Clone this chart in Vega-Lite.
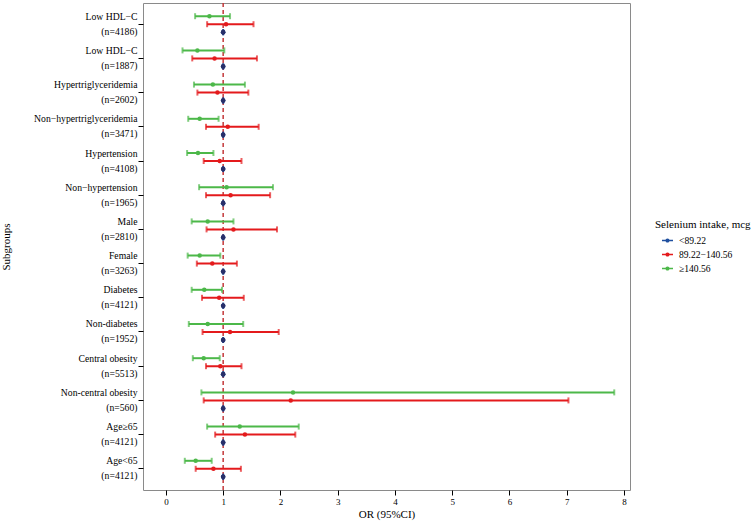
{
  "$schema": "https://vega.github.io/schema/vega-lite/v6.json",
  "width": 487,
  "height": 487,
  "autosize": {"type": "none"},
  "padding": {"left": 143, "top": 3, "right": 123, "bottom": 33},
  "background": "white",
  "config": {
    "font": "Liberation Serif",
    "view": {"stroke": "#8a8a8a", "strokeWidth": 1},
    "axis": {"grid": false, "domain": false, "tickColor": "black", "tickSize": 5, "labelColor": "black", "titleColor": "black", "titleFontWeight": "normal", "labelFont": "Liberation Serif", "titleFont": "Liberation Serif"},
    "legend": {"labelFont": "Liberation Serif", "titleFont": "Liberation Serif"}
  },
  "layer": [
    {
      "data": {"values": [{"ref": 1}]},
      "mark": {"type": "rule", "color": "#c4383a", "strokeWidth": 1.5, "strokeDash": [4, 3]},
      "encoding": {"x": {"field": "ref", "type": "quantitative"}}
    },
    {
      "data": {
        "values": [
          {"subgroup": "Low HDL−C\n(n=4186)", "group": "≥140.56", "or": 0.76, "lo": 0.51, "hi": 1.12},
          {"subgroup": "Low HDL−C\n(n=4186)", "group": "89.22−140.56", "or": 1.05, "lo": 0.72, "hi": 1.53},
          {"subgroup": "Low HDL−C\n(n=4186)", "group": "<89.22", "or": 1, "lo": 1, "hi": 1},
          {"subgroup": "Low HDL−C\n(n=1887)", "group": "≥140.56", "or": 0.55, "lo": 0.29, "hi": 1.02},
          {"subgroup": "Low HDL−C\n(n=1887)", "group": "89.22−140.56", "or": 0.85, "lo": 0.46, "hi": 1.59},
          {"subgroup": "Low HDL−C\n(n=1887)", "group": "<89.22", "or": 1, "lo": 1, "hi": 1},
          {"subgroup": "Hypertriglyceridemia\n(n=2602)", "group": "≥140.56", "or": 0.82, "lo": 0.49, "hi": 1.38},
          {"subgroup": "Hypertriglyceridemia\n(n=2602)", "group": "89.22−140.56", "or": 0.9, "lo": 0.55, "hi": 1.44},
          {"subgroup": "Hypertriglyceridemia\n(n=2602)", "group": "<89.22", "or": 1, "lo": 1, "hi": 1},
          {"subgroup": "Non−hypertriglyceridemia\n(n=3471)", "group": "≥140.56", "or": 0.59, "lo": 0.39, "hi": 0.92},
          {"subgroup": "Non−hypertriglyceridemia\n(n=3471)", "group": "89.22−140.56", "or": 1.08, "lo": 0.7, "hi": 1.62},
          {"subgroup": "Non−hypertriglyceridemia\n(n=3471)", "group": "<89.22", "or": 1, "lo": 1, "hi": 1},
          {"subgroup": "Hypertension\n(n=4108)", "group": "≥140.56", "or": 0.56, "lo": 0.37, "hi": 0.83},
          {"subgroup": "Hypertension\n(n=4108)", "group": "89.22−140.56", "or": 0.94, "lo": 0.66, "hi": 1.32},
          {"subgroup": "Hypertension\n(n=4108)", "group": "<89.22", "or": 1, "lo": 1, "hi": 1},
          {"subgroup": "Non−hypertension\n(n=1965)", "group": "≥140.56", "or": 1.06, "lo": 0.58, "hi": 1.87},
          {"subgroup": "Non−hypertension\n(n=1965)", "group": "89.22−140.56", "or": 1.13, "lo": 0.7, "hi": 1.82},
          {"subgroup": "Non−hypertension\n(n=1965)", "group": "<89.22", "or": 1, "lo": 1, "hi": 1},
          {"subgroup": "Male\n(n=2810)", "group": "≥140.56", "or": 0.73, "lo": 0.45, "hi": 1.18},
          {"subgroup": "Male\n(n=2810)", "group": "89.22−140.56", "or": 1.18, "lo": 0.71, "hi": 1.94},
          {"subgroup": "Male\n(n=2810)", "group": "<89.22", "or": 1, "lo": 1, "hi": 1},
          {"subgroup": "Female\n(n=3263)", "group": "≥140.56", "or": 0.59, "lo": 0.38, "hi": 0.95},
          {"subgroup": "Female\n(n=3263)", "group": "89.22−140.56", "or": 0.81, "lo": 0.54, "hi": 1.24},
          {"subgroup": "Female\n(n=3263)", "group": "<89.22", "or": 1, "lo": 1, "hi": 1},
          {"subgroup": "Diabetes\n(n=4121)", "group": "≥140.56", "or": 0.67, "lo": 0.45, "hi": 0.98},
          {"subgroup": "Diabetes\n(n=4121)", "group": "89.22−140.56", "or": 0.93, "lo": 0.63, "hi": 1.36},
          {"subgroup": "Diabetes\n(n=4121)", "group": "<89.22", "or": 1, "lo": 1, "hi": 1},
          {"subgroup": "Non-diabetes\n(n=1952)", "group": "≥140.56", "or": 0.73, "lo": 0.4, "hi": 1.35},
          {"subgroup": "Non-diabetes\n(n=1952)", "group": "89.22−140.56", "or": 1.12, "lo": 0.64, "hi": 1.97},
          {"subgroup": "Non-diabetes\n(n=1952)", "group": "<89.22", "or": 1, "lo": 1, "hi": 1},
          {"subgroup": "Central obesity\n(n=5513)", "group": "≥140.56", "or": 0.66, "lo": 0.47, "hi": 0.94},
          {"subgroup": "Central obesity\n(n=5513)", "group": "89.22−140.56", "or": 0.95, "lo": 0.7, "hi": 1.32},
          {"subgroup": "Central obesity\n(n=5513)", "group": "<89.22", "or": 1, "lo": 1, "hi": 1},
          {"subgroup": "Non-central obesity\n(n=560)", "group": "≥140.56", "or": 2.22, "lo": 0.62, "hi": 7.83},
          {"subgroup": "Non-central obesity\n(n=560)", "group": "89.22−140.56", "or": 2.18, "lo": 0.66, "hi": 7.03},
          {"subgroup": "Non-central obesity\n(n=560)", "group": "<89.22", "or": 1, "lo": 1, "hi": 1},
          {"subgroup": "Age≥65\n(n=4121)", "group": "≥140.56", "or": 1.29, "lo": 0.72, "hi": 2.32},
          {"subgroup": "Age≥65\n(n=4121)", "group": "89.22−140.56", "or": 1.38, "lo": 0.86, "hi": 2.26},
          {"subgroup": "Age≥65\n(n=4121)", "group": "<89.22", "or": 1, "lo": 1, "hi": 1},
          {"subgroup": "Age<65\n(n=4121)", "group": "≥140.56", "or": 0.52, "lo": 0.33, "hi": 0.8},
          {"subgroup": "Age<65\n(n=4121)", "group": "89.22−140.56", "or": 0.83, "lo": 0.52, "hi": 1.31},
          {"subgroup": "Age<65\n(n=4121)", "group": "<89.22", "or": 1, "lo": 1, "hi": 1}
        ]
      },
      "encoding": {
        "y": {
          "field": "subgroup", "type": "nominal", "sort": null,
          "scale": {"paddingInner": 0, "paddingOuter": 0.12},
          "axis": {"title": "Subgroups", "titleFontSize": 11, "titleFontWeight": "normal", "titlePadding": 22, "labelFontSize": 9.7, "labelExpr": "split(datum.label, '\\n')", "labelLineHeight": 15, "labelPadding": 1, "labelOffset": -7.5, "labelLimit": 200}
        },
        "yOffset": {"field": "group", "type": "nominal", "scale": {"domain": ["≥140.56", "89.22−140.56", "<89.22"], "paddingInner": 0, "paddingOuter": 0.6375}},
        "color": {
          "field": "group", "type": "nominal",
          "scale": {"domain": ["<89.22", "89.22−140.56", "≥140.56"], "range": ["#1f4f9f", "#e41a1c", "#4cb849"]},
          "legend": {"orient": "none", "legendX": 512, "legendY": 216, "title": "Selenium intake, mcg", "titleFontSize": 11, "titleFontWeight": "normal", "titleColor": "black", "titlePadding": 5, "labelFontSize": 9.6, "labelColor": "black", "symbolType": "M-1,-0.13H1V0.13H-1Z M-0.38,0A0.38,0.38 0 1,1 0.38,0A0.38,0.38 0 1,1 -0.38,0Z", "symbolSize": 121, "symbolStrokeWidth": 0, "symbolOpacity": 1, "symbolOffset": 7, "labelOffset": 6, "rowPadding": 3}
        }
      },
      "layer": [
        {
          "mark": {"type": "rule", "strokeWidth": 2},
          "encoding": {
            "x": {"field": "lo", "type": "quantitative", "scale": {"domain": [-0.4, 8.105], "nice": false, "zero": false}, "axis": {"title": "OR (95%CI)", "titleFontSize": 11, "titleFontWeight": "normal", "titlePadding": 2, "labelFontSize": 9, "labelPadding": 2, "format": "d", "values": [0, 1, 2, 3, 4, 5, 6, 7, 8]}},
            "x2": {"field": "hi"}
          }
        },
        {
          "mark": {"type": "tick", "size": 6, "thickness": 2},
          "encoding": {"x": {"field": "lo", "type": "quantitative"}}
        },
        {
          "mark": {"type": "tick", "size": 6, "thickness": 2},
          "encoding": {"x": {"field": "hi", "type": "quantitative"}}
        },
        {
          "mark": {"type": "point", "filled": true, "shape": "circle", "size": 20, "opacity": 1},
          "encoding": {"x": {"field": "or", "type": "quantitative"}}
        },
        {
          "transform": [{"filter": "datum.group === '<89.22'"}],
          "mark": {"type": "tick", "size": 6, "thickness": 1.5, "color": "#282f69"},
          "encoding": {"x": {"field": "or", "type": "quantitative"}, "color": {"value": "#282f69"}}
        },
        {
          "transform": [{"filter": "datum.group === '<89.22'"}],
          "mark": {"type": "point", "filled": true, "shape": "circle", "size": 22, "opacity": 1, "color": "#282f69"},
          "encoding": {"x": {"field": "or", "type": "quantitative"}, "color": {"value": "#282f69"}}
        }
      ]
    }
  ]
}
